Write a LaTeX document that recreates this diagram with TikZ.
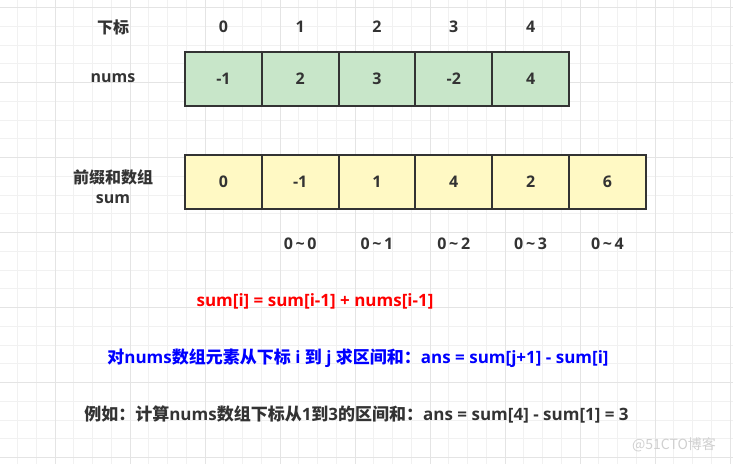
\documentclass[tikz,border=0pt]{standalone}
\usepackage{fontspec}
\setmainfont{Open Sans}
\newfontfamily\cjk{Noto Sans CJK SC}
\definecolor{txt}{HTML}{333333}
\definecolor{gridminor}{HTML}{F1F1F1}
\definecolor{gridmajor}{HTML}{E4E4E4}
\definecolor{greenfill}{HTML}{C8E6C9}
\definecolor{yellowfill}{HTML}{FFF9C4}
\definecolor{redtxt}{HTML}{FF0000}
\definecolor{bluetxt}{HTML}{0000FF}
\definecolor{wm}{HTML}{D0D0D0}
\newcommand{\tld}{\char"007E\relax}
\begin{document}
\begin{tikzpicture}[x=1pt,y=-1pt,
  lbl/.style={inner sep=0pt,font=\fontsize{16}{19}\selectfont\bfseries,text=txt},
  formula/.style={inner sep=0pt,font=\fontsize{17}{20}\selectfont\bfseries,text=txt},
  cellbase/.style={draw=txt,line width=2pt,minimum width=76.8pt,inner sep=0pt,font=\fontsize{16}{19}\selectfont\bfseries,text=txt},
  numcell/.style={cellbase,fill=greenfill,minimum height=54.5pt},
  sumcell/.style={cellbase,fill=yellowfill,minimum height=54.5pt},
  minorline/.style={draw=gridminor,line width=0.8pt},
  majorline/.style={draw=gridmajor,line width=0.8pt}]
\useasboundingbox (0,0) rectangle (733,464);
\fill[white] (0,0) rectangle (733,464);
% grid
\foreach \k in {0,...,38} \draw[minorline] ({17.5+18.75*\k},0) -- ({17.5+18.75*\k},464);
\foreach \k in {0,...,24} \draw[minorline] (0,{7.5+18.75*\k}) -- (733,{7.5+18.75*\k});
\foreach \k in {0,...,9} \draw[majorline] ({55+75*\k},0) -- ({55+75*\k},464);
\foreach \k in {0,...,6} \draw[majorline] (0,{7.5+75*\k}) -- (733,{7.5+75*\k});
% labels
\node[lbl] (xb) at (113,27) {\cjk 下标};
\node[lbl] (numslbl) at (113,78) {nums};
\node[lbl,align=center,font=\fontsize{16}{20}\selectfont\bfseries] (sumlbl) at (113,187) {{\cjk 前缀和数组}\\sum};
% index row
\foreach \v [count=\i from 0] in {0,1,2,3,4}
  \node[lbl] (idx\i) at ({223.4+76.8*\i},27) {\v};
% nums cells
\foreach \v [count=\i from 0] in {-1,2,3,-2,4}
  \node[numcell] (n\i) at ({223.4+76.8*\i},79) {\v};
% sum cells
\foreach \v [count=\i from 0] in {0,-1,1,4,2,6}
  \node[sumcell] (s\i) at ({223.4+76.8*\i},181.8) {\v};
% ranges
\foreach \v [count=\i from 1] in {0,1,2,3,4}
  \node[lbl] (r\i) at ({223.4+76.8*\i},244) {0\,\tld\,\v};
% formulas
\node[formula,text=redtxt] (f1) at (315,301) {sum[i] = sum[i-1] + nums[i-1]};
\node[formula,text=bluetxt] (f2) at (358,358) {{\cjk 对}nums{\cjk 数组元素从下标} i {\cjk 到} j {\cjk 求区间和：}ans = sum[j+1] - sum[i]};
\node[formula] (f3) at (356.5,414) {{\cjk 例如：计算}nums{\cjk 数组下标从}1{\cjk 到}3{\cjk 的区间和：}ans = sum[4] - sum[1] = 3};
\node[inner sep=0pt,text=wm,font=\fontsize{14}{16}\selectfont] (wmk) at (674,445) {\cjk @51CTO博客};
\end{tikzpicture}
\end{document}
